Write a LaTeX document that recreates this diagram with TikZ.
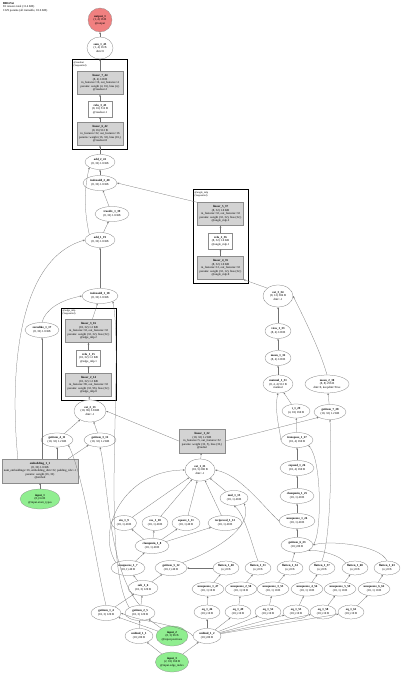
\documentclass[tikz,border=0pt]{standalone}
\usepackage{fontspec}
\setmainfont{Liberation Serif}
\usetikzlibrary{shapes.geometric,arrows.meta}
\definecolor{ingreen}{HTML}{90EE90}
\definecolor{outred}{HTML}{F08080}
\definecolor{boxgray}{HTML}{D3D3D3}
\begin{document}
\begin{tikzpicture}[x=1pt,y=-1pt,
  every node/.style={font=\fontsize{3}{3.6}\selectfont, inner sep=0pt, align=center},
  ell/.style={ellipse, draw=black!55, line width=0.25pt, fill=white},
  gbox/.style={rectangle, draw=black!45, line width=0.25pt, fill=boxgray, minimum width=46, minimum height=23},
  wbox/.style={rectangle, draw=black!45, line width=0.25pt, fill=white, minimum width=24, minimum height=16},
  modbox/.style={draw=black, line width=1pt},
  modlabel/.style={anchor=north west, align=left, font=\fontsize{2.6}{3}\selectfont},
  inp/.style={ellipse, draw=black!45, line width=0.25pt, fill=ingreen},
  outp/.style={circle, draw=black!45, line width=0.25pt, fill=outred, minimum size=24},
  link/.style={-{Stealth[length=2pt,width=1.6pt]}, line width=0.25pt, draw=black!55}
]
\useasboundingbox (0,0) rectangle (400,676);
\fill[white] (0,0) rectangle (400,676);

% header
\node[anchor=north west, align=left] (hdr) at (3,2) {\textbf{BRGNet}\\81 tensors total (11.4 KB)\\1329 params (all trainable, 10.6 KB)};

% module boxes
\draw[modbox] (72,60) rectangle (127,150);
\node[modlabel] (m1) at (73.5,61) {@readout\\(Sequential)};
\draw[modbox] (61,308) rectangle (116,400);
\node[modlabel] (m2) at (62.5,309) {@edge\_mlp\\(Sequential)};
\draw[modbox] (193,190) rectangle (248,283);
\node[modlabel] (m3) at (194.5,191) {@angle\_mlp\\(Sequential)};

% top chain
\node[outp] (out) at (100,20) {\textbf{output\_1}\\(1, 4) 16 B\\@output};
\node[ell, minimum width=26, minimum height=22] (sum) at (100,48) {\textbf{sum\_1\_45}\\(1, 4) 16 B\\dim=0};
\node[gbox] (lin7) at (100,83) {\textbf{linear\_7\_44}\\(8, 4) 128 B\\in\_features=16, out\_features=4\\params: weight (4, 16), bias (4,)\\@readout.2};
\node[wbox] (relu3) at (100,109) {\textbf{relu\_3\_43}\\(8, 16) 512 B\\@readout.1};
\node[gbox] (lin6) at (100,134) {\textbf{linear\_6\_42}\\(8, 16) 512 B\\in\_features=32, out\_features=16\\params: weight (16, 32), bias (16,)\\@readout.0};
\node[ell, minimum width=30, minimum height=15] (add2) at (100,162) {\textbf{add\_2\_41}\\(8, 32) 1.0 KB};
\node[ell, minimum width=34, minimum height=15] (ia2) at (100,183) {\textbf{indexadd\_2\_40}\\(8, 32) 1.0 KB};
\node[ell, minimum width=34, minimum height=15] (div1) at (112,214) {\textbf{truediv\_1\_39}\\(8, 32) 1.0 KB};
\node[ell, minimum width=30, minimum height=15] (add1) at (100,240) {\textbf{add\_1\_19}\\(8, 32) 1.0 KB};
\node[ell, minimum width=36, minimum height=15] (ia1) at (100,296) {\textbf{indexadd\_1\_18}\\(8, 32) 1.0 KB};
\node[ell, minimum width=34, minimum height=15] (zl) at (42,330) {\textbf{zeroslike\_1\_17}\\(8, 32) 1.0 KB};

% edge mlp
\node[gbox] (lin3) at (88.5,331) {\textbf{linear\_3\_16}\\(10, 32) 1.2 KB\\in\_features=32, out\_features=32\\params: weight (32, 32), bias (32,)\\@edge\_mlp.2};
\node[wbox] (relu1) at (88.5,358) {\textbf{relu\_1\_15}\\(10, 32) 1.2 KB\\@edge\_mlp.1};
\node[gbox] (lin2) at (88.5,385) {\textbf{linear\_2\_14}\\(10, 32) 1.2 KB\\in\_features=96, out\_features=32\\params: weight (32, 96), bias (32,)\\@edge\_mlp.0};
\node[ell, minimum width=32, minimum height=22] (cat2) at (90,411) {\textbf{cat\_2\_13}\\(10, 96) 3.8 KB\\dim=-1};
\node[ell, minimum width=32, minimum height=14] (gi4) at (57,440) {\textbf{getitem\_4\_11}\\(10, 32) 1.2 KB};
\node[ell, minimum width=32, minimum height=14] (gi3) at (100,440) {\textbf{getitem\_3\_12}\\(10, 32) 1.2 KB};
\node[gbox, minimum width=76, minimum height=24] (emb) at (40,471) {\textbf{embedding\_1\_1}\\(8, 32) 1.0 KB\\num\_embeddings=16, embedding\_dim=32, padding\_idx=-1\\params: weight (16, 32)\\@embed};
\node[inp, minimum width=40, minimum height=20] (in1) at (40,499) {\textbf{input\_1}\\(8,) 64 B\\@input.atom\_types};

% angle mlp
\node[gbox] (lin5) at (220.5,214) {\textbf{linear\_5\_37}\\(8, 32) 1.0 KB\\in\_features=32, out\_features=32\\params: weight (32, 32), bias (32,)\\@angle\_mlp.2};
\node[wbox] (relu2) at (220.5,241) {\textbf{relu\_2\_36}\\(8, 32) 1.0 KB\\@angle\_mlp.1};
\node[gbox] (lin4) at (220.5,268) {\textbf{linear\_4\_35}\\(8, 32) 1.0 KB\\in\_features=12, out\_features=32\\params: weight (32, 12), bias (32,)\\@angle\_mlp.0};
\node[ell, minimum width=30, minimum height=22] (cat3) at (278,296) {\textbf{cat\_3\_34}\\(8, 12) 384 B\\dim=-1};
\node[ell, minimum width=26, minimum height=15] (view1) at (278,331) {\textbf{view\_1\_33}\\(8, 4) 128 B};
\node[ell, minimum width=26, minimum height=15] (mean1) at (278,358) {\textbf{mean\_1\_32}\\(8, 4) 128 B};
\node[ell, minimum width=30, minimum height=18] (mm1) at (278,384) {\textbf{matmul\_1\_31}\\(8, 4, 4) 512 B\\matmul};
\node[ell, minimum width=44, minimum height=18] (mean2) at (327,384) {\textbf{mean\_2\_30}\\(8, 8) 256 B\\dim=0, keepdim=True};
\node[ell, minimum width=28, minimum height=14] (t1) at (296,411) {\textbf{t\_1\_29}\\(4, 10) 160 B};
\node[ell, minimum width=32, minimum height=15] (gi7) at (330,412) {\textbf{getitem\_7\_28}\\(10, 32) 1.2 KB};
\node[ell, minimum width=32, minimum height=15] (tr1) at (297,440) {\textbf{transpose\_1\_27}\\(10, 4) 160 B};
\node[ell, minimum width=34, minimum height=15] (exp1) at (297,468) {\textbf{expand\_1\_26}\\(10, 4) 160 B};
\node[ell, minimum width=34, minimum height=15] (clamp2) at (297,496) {\textbf{clampmin\_1\_25}\\(10, 1) 40 B};
\node[ell, minimum width=36, minimum height=15] (unsq2) at (297,521) {\textbf{unsqueeze\_1\_24}\\(10, 1) 40 B};
\node[ell, minimum width=32, minimum height=15] (gi6) at (297,545) {\textbf{getitem\_6\_23}\\(10,) 80 B};

% distance features
\node[gbox, minimum height=24] (lin1) at (202,441) {\textbf{linear\_1\_22}\\(10, 32) 1.2 KB\\in\_features=5, out\_features=32\\params: weight (32, 5), bias (32,)\\@radial};
\node[ell, minimum width=30, minimum height=22] (cat1) at (200,470) {\textbf{cat\_1\_21}\\(10, 5) 200 B\\dim=-1};
\node[ell, minimum width=28, minimum height=15] (mul) at (234,498) {\textbf{mul\_1\_13}\\(10, 1) 40 B};
\node[ell, minimum width=25, minimum height=15] (sin) at (124,523) {\textbf{sin\_1\_9}\\(10, 1) 40 B};
\node[ell, minimum width=26, minimum height=15] (cos) at (155,523) {\textbf{cos\_1\_10}\\(10, 1) 40 B};
\node[ell, minimum width=28, minimum height=15] (sq) at (186,523) {\textbf{square\_1\_11}\\(10, 1) 40 B};
\node[ell, minimum width=34, minimum height=15] (rec) at (225,523) {\textbf{reciprocal\_1\_12}\\(10, 1) 40 B};
\node[ell, minimum width=34, minimum height=15] (clamp1) at (152,546) {\textbf{clampmin\_1\_8}\\(10, 1) 40 B};
\node[ell, minimum width=34, minimum height=15] (unsq1) at (128,568) {\textbf{unsqueeze\_1\_7}\\(10, 1) 40 B};
\node[ell, minimum width=32, minimum height=15] (gi5) at (171,568) {\textbf{getitem\_5\_12}\\(10, 1) 40 B};
\node[ell, minimum width=30, minimum height=15] (sub) at (143,588) {\textbf{sub\_1\_6}\\(10, 3) 120 B};
\node[ell, minimum width=30, minimum height=15] (gi1) at (106,613) {\textbf{getitem\_1\_4}\\(10, 3) 120 B};
\node[ell, minimum width=30, minimum height=15] (gi2) at (140,613) {\textbf{getitem\_2\_5}\\(10, 3) 120 B};
\node[ell, minimum width=28, minimum height=15] (ub1) at (139,636) {\textbf{unbind\_1\_1}\\(10,) 80 B};
\node[inp, minimum width=32, minimum height=20] (in2) at (172,636) {\textbf{input\_2}\\(8, 3) 96 B\\@input.positions};
\node[inp, minimum width=32, minimum height=20] (in3) at (172,662) {\textbf{input\_3}\\(2, 10) 160 B\\@input.edge\_index};
\node[ell, minimum width=28, minimum height=15] (ub2) at (207,636) {\textbf{unbind\_1\_2}\\(10,) 80 B};

% graph rows
\foreach \i/\x/\n in {1/226/48,2/258/51,3/290/54,4/322/57,5/355/60,6/387/63}{
  \node[ell, minimum width=26, minimum height=14] (fl\i) at (\x,568) {\textbf{flatten\_1\_\n}\\(n,) 8 B};
}
\foreach \i/\x/\n in {1/208/47,2/241/50,3/273/53,4/307/56,5/340/59,6/374/62}{
  \node[ell, minimum width=32, minimum height=14] (us\i) at (\x,589) {\textbf{unsqueeze\_\i\_\n}\\(10, 1) 10 B};
}
\foreach \i/\x/\n in {1/207/46,2/238/49,3/268/52,4/296/55,5/323/58,6/351/61}{
  \node[ell, minimum width=26, minimum height=14] (eq\i) at (\x,612) {\textbf{eq\_1\_\n}\\(10,) 10 B};
}

% ---- edges ----
\draw[link] (sum) -- (out);
\draw[link] (lin7) -- (sum);
\draw[link] (relu3) -- (lin7);
\draw[link] (lin6) -- (relu3);
\draw[link] (add2) -- (lin6);
\draw[link] (ia2) -- (add2);
\draw[link] (div1) -- (ia2);
\draw[link] (add1) -- (div1);
\draw[link] (add1.north west) .. controls (84,210) and (84,190) .. (add2.south west);
\draw[link] (lin5.north west) -- (ia2.east);
\draw[link] (ia1) -- (add1);
\draw[link] ([xshift=16pt]emb.north west) .. controls (10,380) and (15,260) .. (add1.west);
\draw[link] (lin3) -- (ia1);
\draw[link] (relu1) -- (lin3);
\draw[link] (lin2) -- (relu1);
\draw[link] (cat2) -- (lin2);
\draw[link] (zl.north) .. controls (45,310) and (60,300) .. (ia1.west);
\draw[link] (emb.north -| zl) -- (zl.south);
\draw[link] (gi2.north west) .. controls (100,560) and (124,360) .. (ia1.south east);
\draw[link] (gi4) -- (cat2);
\draw[link] (gi3) -- (cat2);
\draw[link] (lin1.west) -- (cat2.east);
\draw[link] (emb.north -| gi4) -- (gi4.south);
\draw[link] ([xshift=-10pt]emb.north east) -- (gi3.south west);
\draw[link] (gi1.north) .. controls (95,560) and (85,480) .. (gi4.south east);
\draw[link] (gi2.north) .. controls (108,570) and (108,480) .. (gi3.south);
\draw[link] (in1) -- (emb);

\draw[link] (lin4) -- (relu2);
\draw[link] (relu2) -- (lin5);
\draw[link] (cat3.north west) -- (lin4.south east);
\draw[link] (view1) -- (cat3);
\draw[link] (mean2.north) .. controls (320,350) and (305,320) .. (cat3.east);
\draw[link] (mean1) -- (view1);
\draw[link] (mm1) -- (mean1);
\draw[link] (t1) -- (mm1);
\draw[link] (tr1) -- (t1);
\draw[link] (tr1.west) .. controls (280,430) and (274,410) .. (mm1.south);
\draw[link] (gi7) -- (mean2);
\draw[link] (lin1.east) -- (gi7.south west);
\draw[link] (fl4.north) .. controls (330,540) and (332,470) .. (gi7.south);
\draw[link] (exp1) -- (tr1);
\draw[link] (clamp2) -- (exp1);
\draw[link] (unsq2) -- (clamp2);
\draw[link] (gi6) -- (unsq2);
\draw[link] (gi6.east) .. controls (322,535) and (322,460) .. (tr1.south east);

\draw[link] (cat1) -- (lin1);
\draw[link] (mul) -- (cat1);
\draw[link] (sin) -- (cat1);
\draw[link] (cos) -- (cat1);
\draw[link] (sq) -- (cat1);
\draw[link] (rec) -- (cat1);
\draw[link] (unsq1.north west) .. controls (95,530) and (125,470) .. (cat1.west);
\draw[link] (unsq2.west) .. controls (262,505) and (240,475) .. (cat1.east);
\draw[link] (clamp1) -- (sin);
\draw[link] (clamp1) -- (cos);
\draw[link] (clamp1) -- (sq);
\draw[link] (clamp1) -- (rec);
\draw[link] (unsq1) -- (clamp1);
\draw[link] (gi5.north east) .. controls (205,555) and (255,530) .. (mul.south east);
\draw[link] (sub) -- (unsq1);
\draw[link] (sub) -- (gi5);
\draw[link] (gi1) -- (sub);
\draw[link] (gi2) -- (sub);
\draw[link] (in2) -- (gi1);
\draw[link] (in2) -- (gi2);
\draw[link] (ub1) -- (gi2);
\draw[link] (ub2.west) .. controls (185,625) and (140,622) .. (gi1.east);
\draw[link] (in3) -- (ub1);
\draw[link] (in3) -- (ub2);

\foreach \i in {1,...,6}{
  \draw[link] (ub2) -- (eq\i);
  \draw[link] (eq\i) -- (us\i);
  \draw[link] (us\i) -- (fl\i);
}
\draw[link] (fl1) -- (gi5);
\draw[link] (fl2.north) .. controls (252,545) and (245,515) .. (mul.south);
\draw[link] (fl3) -- (gi6);
\draw[link] (fl5.north west) .. controls (340,555) and (320,550) .. (gi6.south east);
\draw[link] (fl6.north) .. controls (380,545) and (330,540) .. (gi6.east);
\end{tikzpicture}
\end{document}
